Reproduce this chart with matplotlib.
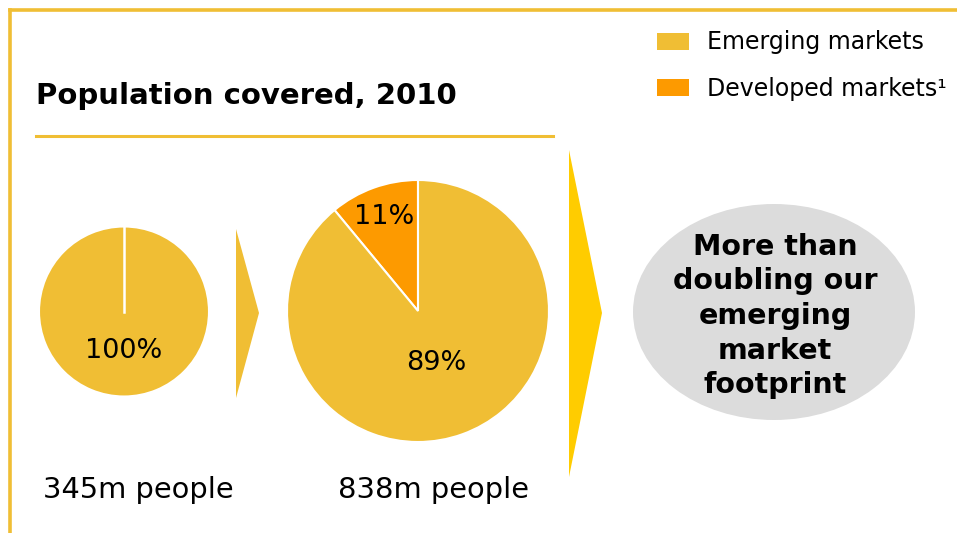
import numpy as np
import matplotlib
matplotlib.use("Agg")
import matplotlib.pyplot as plt
from matplotlib.patches import Polygon, Ellipse, Patch

# data
segments = ["Developed markets¹", "Emerging markets"]
share_before = [0, 100]     # % of population covered, before
share_2010 = [11, 89]       # % of population covered, 2010
people = ["345m people", "838m people"]
title = "Population covered, 2010"
message = "More than\ndoubling our\nemerging\nmarket\nfootprint"

# colours
gold = "#F0BE34"
orange = "#FD9A00"
arrow_gold = "#FFCC00"
grey = "#DCDCDC"

W, H = 957, 533
def Y(y):
    # pixel row (from top) -> data y
    return H - y

fig = plt.figure(figsize=(W / 100, H / 100), dpi=100)
ax = fig.add_axes([0, 0, 1, 1])

# frame lines top and left
ax.plot([10, W], [Y(10), Y(10)], color=gold, lw=2.6, solid_capstyle="projecting")
ax.plot([10, 10], [Y(10), 0], color=gold, lw=2.6, solid_capstyle="projecting")

# title + underline
ax.text(36, Y(96), title, fontsize=21, fontweight="bold", va="center", ha="left")
ax.plot([36, 553], [Y(136), Y(136)], color=gold, lw=2.2)

def draw_pie(values, center, radius, dists):
    vals = [v for v in values if v > 0]
    cols = [c for v, c in zip(values, [orange, gold]) if v > 0]
    ds = [d for v, d in zip(values, dists) if v > 0]
    wedges, _ = ax.pie(vals, colors=cols, startangle=90, counterclock=True,
                       center=center, radius=radius,
                       wedgeprops=dict(edgecolor="white", linewidth=1.5))
    for w, v, d in zip(wedges, vals, ds):
        mid = np.deg2rad((w.theta1 + w.theta2) / 2)
        ax.text(center[0] + d * radius * np.cos(mid),
                center[1] + d * radius * np.sin(mid),
                f"{v}%", fontsize=19.5, ha="center", va="center")
    if len(vals) == 1:
        # white seam at 12 o'clock
        ax.plot([center[0], center[0]], [center[1], center[1] + radius],
                color="white", lw=1.8)

draw_pie(share_before, (124, Y(311.5)), 85, [0.76, 0.46])
draw_pie(share_2010, (418, Y(311)), 131, [0.76, 0.42])

# chevron arrows
ax.add_patch(Polygon([(236, Y(229)), (259, Y(313)), (236, Y(398))],
                     closed=True, color=gold, lw=0))
ax.add_patch(Polygon([(569, Y(150)), (602, Y(313)), (569, Y(477))],
                     closed=True, color=arrow_gold, lw=0))

# message bubble
ax.add_patch(Ellipse((774, Y(312)), 282, 216, color=grey, lw=0))
ax.text(775, Y(316), message, fontsize=20.5, fontweight="bold",
        ha="center", va="center", linespacing=1.3)

# people labels
ax.text(138, Y(490), people[0], fontsize=20.8, ha="center", va="center")
ax.text(433, Y(490), people[1], fontsize=20.8, ha="center", va="center")

# legend
handles = [Patch(facecolor=gold, edgecolor="none", label=segments[1]),
           Patch(facecolor=orange, edgecolor="none", label=segments[0])]
ax.legend(handles=handles, loc="upper left",
          bbox_to_anchor=(648 / W, 1 - 21 / H), frameon=False,
          fontsize=17, handlelength=1.35, handleheight=0.72,
          handletextpad=0.75, labelspacing=0.95, borderaxespad=0)

ax.set_xlim(0, W)
ax.set_ylim(0, H)
ax.set_aspect("auto")
ax.axis("off")

fig.savefig("out.png", dpi=100)
